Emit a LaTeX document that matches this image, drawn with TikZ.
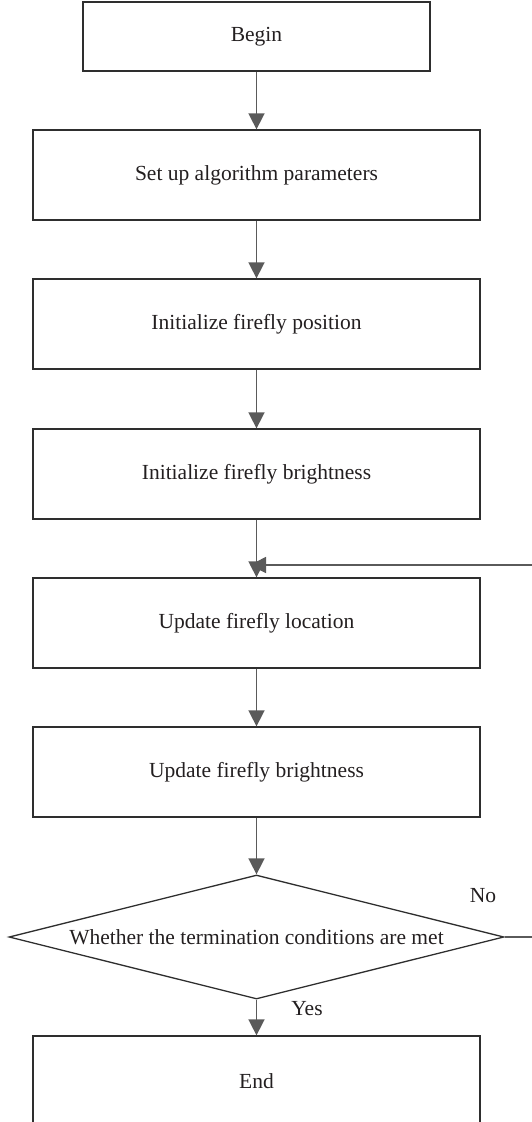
\documentclass[tikz,border=0pt]{standalone}
\usepackage{fontspec}
\setmainfont{Liberation Serif}
\usetikzlibrary{arrows.meta,shapes.geometric}
\definecolor{edge}{HTML}{2E2E2E}
\definecolor{wire}{HTML}{5A5A5A}
\definecolor{ink}{HTML}{231F20}
\begin{document}
\begin{tikzpicture}[x=1pt,y=-1pt,
  font=\fontsize{21.5}{25}\selectfont, text=ink,
  box/.style={draw=edge, line width=1.3pt, rectangle, inner sep=0pt,
    minimum width=447pt, minimum height=90pt},
  cond/.style={draw=edge, line width=1.3pt, diamond, inner sep=0pt,
    minimum width=495pt, minimum height=124pt},
  flow/.style={draw=wire, line width=1.6pt,
    -{Triangle[length=16pt,width=16pt]}},
  tag/.style={inner sep=0pt}]
\clip (0,0) rectangle (532,1122);

% process steps
\node[box, minimum width=347pt, minimum height=69pt] (begin) at (256.5,36.5) {Begin};
\node[box] (setup)  at (256.5,175) {Set up algorithm parameters};
\node[box] (ipos)   at (256.5,324) {Initialize firefly position};
\node[box] (ibri)   at (256.5,474) {Initialize firefly brightness};
\node[box] (uloc)   at (256.5,623) {Update firefly location};
\node[box] (ubri)   at (256.5,772) {Update firefly brightness};
\node[cond, label=center:{Whether the termination conditions are met}] (check) at (256.5,937) {};
\node[box] (finish) at (256.5,1081) {End};

% branch labels
\node[tag] (no)  at (483,896)  {No};
\node[tag] (yes) at (307,1009) {Yes};

% main flow
\draw[flow] (begin.south) -- (setup.north);
\draw[flow] (setup.south) -- (ipos.north);
\draw[flow] (ipos.south)  -- (ibri.north);
\draw[flow] (ibri.south)  -- (uloc.north);
\draw[flow] (uloc.south)  -- (ubri.north);
\draw[flow] (ubri.south)  -- (check.north);
\draw[flow] (check.south) -- (finish.north);

% loop back when the stop condition fails
\coordinate (join) at (250,565);
\draw[flow] (check.east) -- ++(45,0) |- (join);
\end{tikzpicture}
\end{document}
